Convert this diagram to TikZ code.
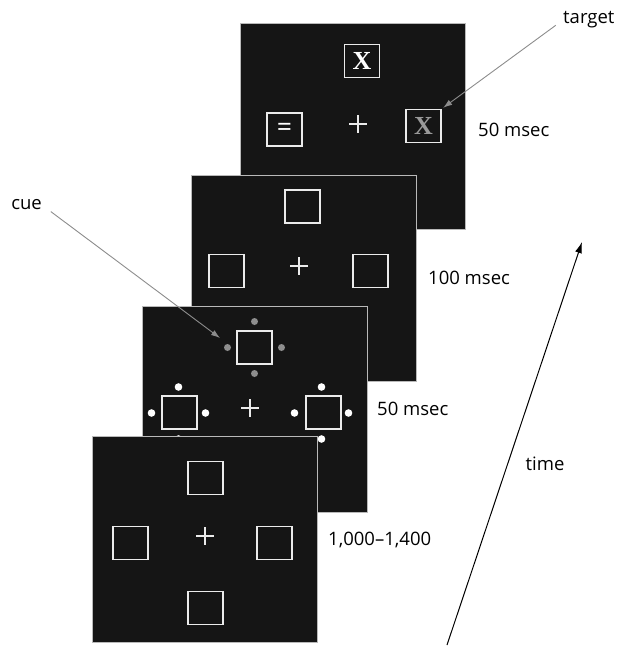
\documentclass[tikz,border=0pt]{standalone}
\usepackage{fontspec}
\setmainfont{Open Sans}
\newfontfamily\letterfont{Liberation Serif}
\usetikzlibrary{arrows.meta}

\definecolor{screen}{HTML}{151515}
\definecolor{pointergray}{HTML}{8C8C8C}
\definecolor{cuegray}{HTML}{8E8E8E}

% fixation cross, centre given in panel coordinates
\newcommand{\fixcross}[2]{\draw[crossline] (#1-9,#2) -- (#1+9,#2) (#1,#2-9) -- (#1,#2+9);}

\begin{document}
\begin{tikzpicture}[x=1pt, y=-1pt,
  % one display screen
  panel/.style={draw=gray!55, line width=1pt, fill=screen, anchor=north west,
                minimum width=225pt, minimum height=206pt, inner sep=0pt},
  % placeholder boxes on the screen
  stimbox/.style={draw=white!92!black, line width=1.2pt, minimum width=35pt,
                  minimum height=33pt, inner sep=0pt},
  letter/.style={font=\letterfont\bfseries\fontsize{26}{26}\selectfont},
  crossline/.style={draw=white!92!black, line width=1.2pt},
  whitedot/.style={fill=white},
  graydot/.style={fill=cuegray},
  durlabel/.style={anchor=west, inner sep=0pt, font=\fontsize{18.5}{20}\selectfont},
  pointer/.style={draw=pointergray, line width=0.9pt,
                  -{Latex[length=9pt, width=6pt]}},
  timearrow/.style={draw=black, line width=1pt, -{Latex[length=11pt, width=7pt]}}
]
  \useasboundingbox (0,0) rectangle (621,646);

  % Panel 1: target display
  \begin{scope}[shift={(240,23)}]
    \node[panel] (p1) at (0,0) {};
    \node[stimbox, text=white, letter] (p1top) at (122,38) {X};
    \node[stimbox, text=white, letter] (p1left) at (44.5,106.5) {\raisebox{-2pt}{=}};
    \node[stimbox, text=gray!80, letter] (p1right) at (183.5,103) {X};
    \fixcross{118}{101}
  \end{scope}

  % Panel 2: interval
  \begin{scope}[shift={(191,175)}]
    \node[panel] (p2) at (0,0) {};
    \node[stimbox] (p2top) at (111.5,31.5) {};
    \node[stimbox] (p2left) at (35.5,96) {};
    \node[stimbox] (p2right) at (179.5,96) {};
    \fixcross{108}{91}
  \end{scope}

  % Panel 3: cue display
  \begin{scope}[shift={(142,306)}]
    \node[panel] (p3) at (0,0) {};
    \node[stimbox] (p3top) at (112.5,41.5) {};
    \node[stimbox] (p3left) at (37.5,106.5) {};
    \node[stimbox] (p3right) at (181.5,106.5) {};
    \fixcross{108}{102}
    % grey cue dots
    \foreach \dx/\dy in {0/-26, -27/0, 27/0, 0/26}
      \fill[graydot] (112.5+\dx,41.5+\dy) circle (3.5);
    % white dots
    \foreach \cx in {36.5,179.5}
      \foreach \dx/\dy in {0/-26, -27/0, 27/0, 0/26}
        \fill[whitedot] (\cx+\dx,107+\dy) circle (3.8);
  \end{scope}

  % Panel 4: fixation display
  \begin{scope}[shift={(92,436)}]
    \node[panel] (p4) at (0,0) {};
    \node[stimbox] (p4top) at (113.5,42) {};
    \node[stimbox] (p4left) at (38.5,107) {};
    \node[stimbox] (p4right) at (182.5,107) {};
    \node[stimbox] (p4bottom) at (113.5,172) {};
    \fixcross{113}{100}
  \end{scope}

  % Durations
  \node[durlabel] (dur1) at (478,130) {50 msec};
  \node[durlabel] (dur2) at (428,278) {100 msec};
  \node[durlabel] (dur3) at (377,409) {50 msec};
  \node[durlabel] (dur4) at (328,540) {1,000--1,400};

  % Pointer labels
  \node[durlabel, anchor=east] (cue) at (42,205) {cue};
  \node[durlabel] (target) at (563,20) {target};
  \node[durlabel, anchor=center] (time) at (545,464) {time};

  \coordinate (cuetip) at (220,338);
  \draw[pointer, shorten <=11pt] (cue.east) -- (cuetip);
  \draw[pointer, shorten <=9pt, shorten >=2pt] (target.west) -- (p1right.north east);

  % Time axis
  \coordinate (tstart) at (447,645);
  \coordinate (tend) at (582,242);
  \draw[timearrow] (tstart) -- (tend);
\end{tikzpicture}
\end{document}
